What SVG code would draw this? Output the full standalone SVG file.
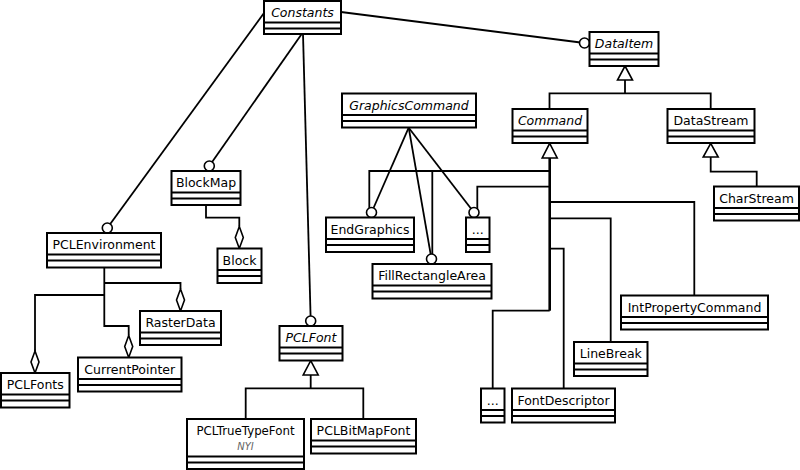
<svg xmlns="http://www.w3.org/2000/svg" width="800" height="470" viewBox="0 0 800 470">
<style>
.box rect{fill:#fff;stroke:#000;stroke-width:2}
.box line{stroke:#000;stroke-width:2}
.box text{font-family:"DejaVu Sans",sans-serif;font-size:12.5px;fill:#000;text-anchor:middle}
.box text.i{font-style:italic}
.box text.n{font-size:10px;font-style:italic;fill:#666}
#connectors path,#connectors line{fill:none;stroke:#000;stroke-width:1.8}
#connectors path.trunk{stroke-width:2.6}
#connectors circle{fill:#fff;stroke:#000;stroke-width:1.6}
#connectors polygon{fill:#fff;stroke:#000;stroke-width:1.6}
</style>
<g id="connectors">
<line x1="341" y1="12" x2="584.5" y2="43"/>
<circle cx="584.5" cy="43" r="5"/>
<line x1="264" y1="13" x2="107.3" y2="228"/>
<circle cx="107.3" cy="228" r="5"/>
<line x1="301.7" y1="34" x2="209.3" y2="166"/>
<circle cx="209.3" cy="166" r="5"/>
<line x1="303" y1="34" x2="310.7" y2="321"/>
<circle cx="310.7" cy="321" r="5"/>
<path d="M206 205.3V217.7H239.3V226.5"/>
<polygon points="239.3,226.5 243.3,237.5 239.3,248.5 235.3,237.5"/>
<path d="M104.3 267.7V326H128.7V335.5"/>
<path d="M104.3 283H180.5V289"/>
<polygon points="180.5,289 184.5,300 180.5,311 176.5,300"/>
<path d="M104.3 295H35V351"/>
<polygon points="35,351 39,362 35,373 31,362"/>
<polygon points="128.7,335.5 132.7,346.5 128.7,357.5 124.7,346.5"/>
<path d="M625 80V93.3M549.5 109V93.3H710.7V109"/>
<polygon points="625,66 632.5,80 617.5,80"/>
<path class="trunk" d="M549.7 158V310.7"/>
<path d="M549.7 310.7H492.7V388.5M549.7 171H369.3V217.5M432.3 171V264M549.7 186.7H477.3V212.5M549.7 202H694.3V295.5M549.7 218.3H610.7V342M549.7 248.7H563.7V388.5"/>
<polygon points="549.7,143.3 557.2,158 542.2,158"/>
<path d="M710.7 157V171.7H756.7V186.5"/>
<polygon points="710.7,143.3 718.2,157 703.2,157"/>
<path d="M310.7 375V388.3M245.7 419V388.3H363.3V419"/>
<polygon points="310.7,360.7 318.2,375 303.2,375"/>
<line x1="408.7" y1="127.7" x2="371.5" y2="212.5"/>
<line x1="408.7" y1="127.7" x2="431.5" y2="259"/>
<line x1="408.7" y1="127.7" x2="474" y2="212.5"/>
<circle cx="371.5" cy="212.5" r="5"/>
<circle cx="431.5" cy="259" r="5"/>
<circle cx="474" cy="212.5" r="5"/>
</g>
<g id="Constants" class="box"><rect x="264" y="1" width="77" height="33"/><line x1="264" y1="22.5" x2="341" y2="22.5"/><line x1="264" y1="28.5" x2="341" y2="28.5"/><text class="i" x="302.5" y="16.5">Constants</text></g>
<g id="DataItem" class="box"><rect x="589.5" y="32" width="69" height="34"/><line x1="589.5" y1="53.5" x2="658.5" y2="53.5"/><line x1="589.5" y1="59.5" x2="658.5" y2="59.5"/><text class="i" x="624" y="48">DataItem</text></g>
<g id="GraphicsCommand" class="box"><rect x="342" y="93.5" width="134" height="34"/><line x1="342" y1="115" x2="476" y2="115"/><line x1="342" y1="121" x2="476" y2="121"/><text class="i" x="409" y="109.5">GraphicsCommand</text></g>
<g id="Command" class="box"><rect x="512.5" y="109" width="75" height="34"/><line x1="512.5" y1="130.5" x2="587.5" y2="130.5"/><line x1="512.5" y1="136.5" x2="587.5" y2="136.5"/><text class="i" x="550" y="125">Command</text></g>
<g id="DataStream" class="box"><rect x="667.5" y="109" width="87" height="34"/><line x1="667.5" y1="130.5" x2="754.5" y2="130.5"/><line x1="667.5" y1="136.5" x2="754.5" y2="136.5"/><text x="711" y="125">DataStream</text></g>
<g id="BlockMap" class="box"><rect x="171.5" y="171" width="69" height="34"/><line x1="171.5" y1="192.5" x2="240.5" y2="192.5"/><line x1="171.5" y1="198.5" x2="240.5" y2="198.5"/><text x="206" y="187">BlockMap</text></g>
<g id="PCLEnvironment" class="box"><rect x="47" y="233" width="114" height="34.5"/><line x1="47" y1="254.5" x2="161" y2="254.5"/><line x1="47" y1="260.5" x2="161" y2="260.5"/><text x="104" y="249">PCLEnvironment</text></g>
<g id="Block" class="box"><rect x="217.5" y="248.5" width="44" height="34.5"/><line x1="217.5" y1="270" x2="261.5" y2="270"/><line x1="217.5" y1="276" x2="261.5" y2="276"/><text x="239.5" y="264.5">Block</text></g>
<g id="EndGraphics" class="box"><rect x="326" y="217.5" width="88" height="34.5"/><line x1="326" y1="239" x2="414" y2="239"/><line x1="326" y1="245" x2="414" y2="245"/><text x="370" y="233.5">EndGraphics</text></g>
<g id="Ellipsis1" class="box"><rect x="466" y="217.5" width="23.5" height="34.5"/><line x1="466" y1="239" x2="489.5" y2="239"/><line x1="466" y1="245" x2="489.5" y2="245"/><text x="477.75" y="233.5">...</text></g>
<g id="FillRectangleArea" class="box"><rect x="372.5" y="264" width="119" height="34.5"/><line x1="372.5" y1="285.5" x2="491.5" y2="285.5"/><line x1="372.5" y1="291.5" x2="491.5" y2="291.5"/><text x="432" y="280">FillRectangleArea</text></g>
<g id="CharStream" class="box"><rect x="714" y="186.5" width="85" height="34"/><line x1="714" y1="208" x2="799" y2="208"/><line x1="714" y1="214" x2="799" y2="214"/><text x="756.5" y="202.5">CharStream</text></g>
<g id="IntPropertyCommand" class="box"><rect x="621" y="295.5" width="147" height="34"/><line x1="621" y1="317" x2="768" y2="317"/><line x1="621" y1="323" x2="768" y2="323"/><text x="694.5" y="311.5">IntPropertyCommand</text></g>
<g id="RasterData" class="box"><rect x="140" y="311" width="81" height="34"/><line x1="140" y1="332.5" x2="221" y2="332.5"/><line x1="140" y1="338.5" x2="221" y2="338.5"/><text x="180.5" y="327">RasterData</text></g>
<g id="LineBreak" class="box"><rect x="574" y="342" width="73.5" height="34"/><line x1="574" y1="363.5" x2="647.5" y2="363.5"/><line x1="574" y1="369.5" x2="647.5" y2="369.5"/><text x="610.75" y="358">LineBreak</text></g>
<g id="CurrentPointer" class="box"><rect x="78" y="357.5" width="103.5" height="34"/><line x1="78" y1="379" x2="181.5" y2="379"/><line x1="78" y1="385" x2="181.5" y2="385"/><text x="129.75" y="373.5">CurrentPointer</text></g>
<g id="PCLFont" class="box"><rect x="279.5" y="326" width="63" height="34.5"/><line x1="279.5" y1="347.5" x2="342.5" y2="347.5"/><line x1="279.5" y1="353.5" x2="342.5" y2="353.5"/><text class="i" x="311" y="342">PCLFont</text></g>
<g id="PCLFonts" class="box"><rect x="1" y="373" width="68.5" height="34.5"/><line x1="1" y1="394.5" x2="69.5" y2="394.5"/><line x1="1" y1="400.5" x2="69.5" y2="400.5"/><text x="35.25" y="389">PCLFonts</text></g>
<g id="Ellipsis2" class="box"><rect x="481" y="388.5" width="23.5" height="34"/><line x1="481" y1="410" x2="504.5" y2="410"/><line x1="481" y1="416" x2="504.5" y2="416"/><text x="492.75" y="404.5">...</text></g>
<g id="FontDescriptor" class="box"><rect x="512" y="388.5" width="103" height="34"/><line x1="512" y1="410" x2="615" y2="410"/><line x1="512" y1="416" x2="615" y2="416"/><text x="563.5" y="404.5">FontDescriptor</text></g>
<g id="PCLTrueTypeFont" class="box"><rect x="187" y="419" width="117" height="50"/><line x1="187" y1="456.5" x2="304" y2="456.5"/><line x1="187" y1="462.5" x2="304" y2="462.5"/><text x="245.5" y="435" style="font-size:11.8px">PCLTrueTypeFont</text><text class="n" x="245.5" y="450">NYI</text></g>
<g id="PCLBitMapFont" class="box"><rect x="311" y="419" width="105" height="34.5"/><line x1="311" y1="440.5" x2="416" y2="440.5"/><line x1="311" y1="446.5" x2="416" y2="446.5"/><text x="363.5" y="435">PCLBitMapFont</text></g>
</svg>
